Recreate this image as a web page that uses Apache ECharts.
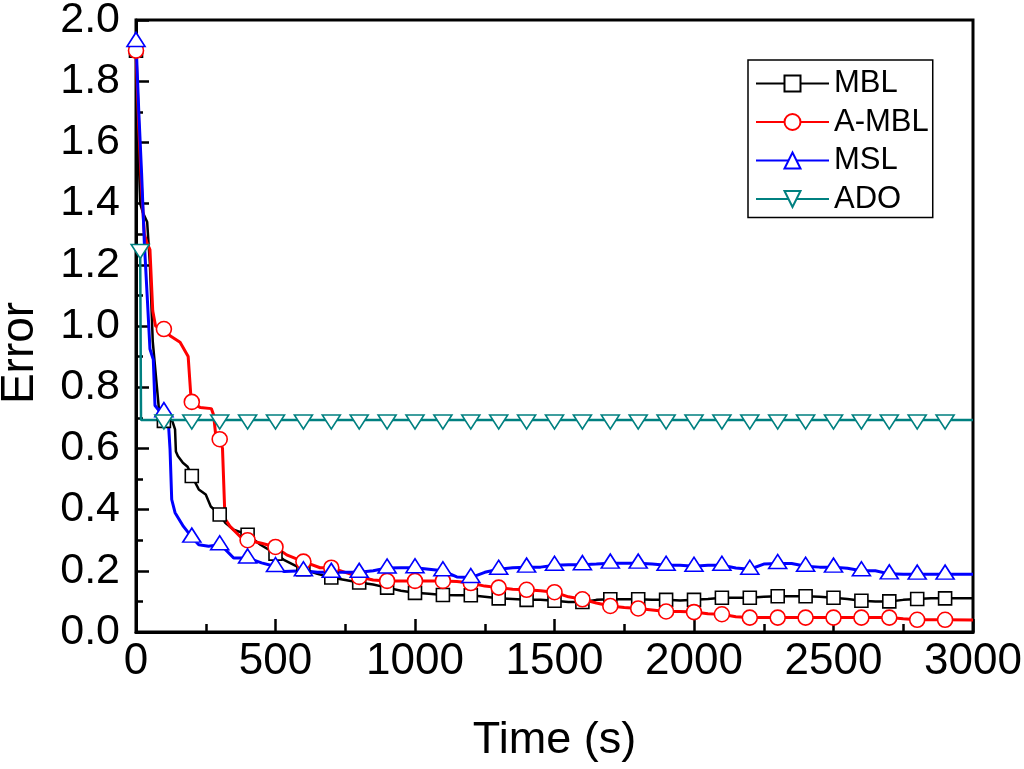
<!DOCTYPE html>
<html>
<head>
<meta charset="utf-8">
<script src="https://cdn.jsdelivr.net/npm/echarts@6/dist/echarts.min.js"></script>
<style>
html,body{margin:0;padding:0;background:#fff;}
#chart{width:1024px;height:769px;}
</style>
</head>
<body>
<div id="chart"></div>
<script>
// Data: [time (s), error]
const mbl = [[0,1.90],[8,1.60],[15,1.40],[25,1.37],[40,1.34],[50,1.20],[60,0.95],[75,0.80],[85,0.70],[100,0.69],
  [130,0.69],[140,0.662],[143,0.59],[150,0.575],[168,0.553],[185,0.54],[200,0.51],[225,0.466],[250,0.449],[268,0.41],
  [300,0.384],[320,0.357],[350,0.334],[400,0.318],[446,0.285],[500,0.256],[530,0.236],[578,0.214],[600,0.205],[650,0.19],
  [700,0.178],[750,0.17],[800,0.162],[850,0.155],[900,0.145],[950,0.135],[1000,0.128],[1050,0.125],[1100,0.121],[1150,0.12],
  [1200,0.12],[1250,0.115],[1300,0.11],[1350,0.108],[1400,0.105],[1450,0.105],[1500,0.102],[1550,0.098],[1600,0.098],[1650,0.105],
  [1700,0.107],[1750,0.107],[1800,0.107],[1850,0.105],[1900,0.105],[1950,0.103],[2000,0.105],[2050,0.108],[2100,0.112],[2150,0.112],
  [2200,0.112],[2250,0.115],[2300,0.117],[2350,0.117],[2400,0.117],[2450,0.115],[2500,0.112],[2550,0.108],[2600,0.102],[2650,0.1],
  [2700,0.1],[2750,0.105],[2800,0.108],[2850,0.11],[2900,0.11],[3000,0.11]];

const ambl = [[0,1.90],[10,1.65],[20,1.45],[30,1.30],[40,1.27],[50,1.25],[60,1.05],[70,1.00],[100,0.99],[122,0.968],
  [158,0.947],[187,0.90],[196,0.78],[200,0.752],[230,0.734],[270,0.73],[278,0.71],[285,0.65],[300,0.63],[310,0.60],
  [319,0.37],[337,0.345],[373,0.312],[400,0.30],[450,0.29],[500,0.278],[540,0.252],[600,0.23],[660,0.21],[700,0.21],
  [750,0.195],[800,0.18],[850,0.17],[900,0.167],[1000,0.167],[1100,0.167],[1150,0.165],[1200,0.16],[1250,0.15],[1300,0.145],
  [1350,0.14],[1400,0.138],[1450,0.135],[1500,0.13],[1550,0.115],[1600,0.107],[1650,0.095],[1700,0.085],[1750,0.08],[1800,0.077],
  [1850,0.072],[1900,0.067],[1950,0.067],[2000,0.065],[2050,0.06],[2100,0.058],[2150,0.05],[2200,0.047],[2300,0.047],[2400,0.047],
  [2500,0.047],[2600,0.047],[2700,0.047],[2750,0.043],[2800,0.04],[2900,0.04],[3000,0.039]];

const msl = [[0,1.93],[10,1.70],[20,1.50],[30,1.27],[40,1.10],[50,0.925],[62,0.89],[68,0.74],[86,0.72],[100,0.72],
  [115,0.70],[122,0.597],[128,0.433],[140,0.39],[170,0.345],[200,0.31],[225,0.285],[260,0.28],[300,0.285],[320,0.27],
  [350,0.242],[400,0.242],[450,0.226],[500,0.214],[530,0.198],[600,0.20],[650,0.195],[700,0.195],[750,0.195],[800,0.195],
  [850,0.20],[900,0.209],[950,0.21],[1000,0.21],[1050,0.205],[1100,0.20],[1150,0.18],[1200,0.178],[1250,0.195],[1300,0.205],
  [1350,0.21],[1400,0.212],[1450,0.212],[1500,0.218],[1550,0.22],[1600,0.22],[1650,0.222],[1700,0.225],[1750,0.225],[1800,0.225],
  [1850,0.222],[1900,0.218],[1950,0.218],[2000,0.215],[2050,0.218],[2100,0.218],[2150,0.209],[2200,0.205],[2250,0.222],[2300,0.224],
  [2350,0.224],[2400,0.215],[2450,0.212],[2500,0.212],[2550,0.208],[2600,0.20],[2650,0.20],[2700,0.19],[2750,0.189],[2800,0.189],
  [2900,0.189],[3000,0.189]];

const ado = [[0,1.25],[15,1.25],[18,0.693],[100,0.693],[200,0.693],[300,0.693],[400,0.693],[500,0.693],[600,0.693],[700,0.693],
  [800,0.693],[900,0.693],[1000,0.693],[1100,0.693],[1200,0.693],[1300,0.693],[1400,0.693],[1500,0.693],[1600,0.693],[1700,0.693],
  [1800,0.693],[1900,0.693],[2000,0.693],[2100,0.693],[2200,0.693],[2300,0.693],[2400,0.693],[2500,0.693],[2600,0.693],[2700,0.693],
  [2800,0.693],[2900,0.693],[3000,0.693]];

// Times at which markers are drawn
const markerTimes = [0,100,200,300,400,500,600,700,800,900,1000,1100,1200,1300,1400,1500,1600,1700,1800,1900,
  2000,2100,2200,2300,2400,2500,2600,2700,2800,2900];
const adoMarkerTimes = [15,100,200,300,400,500,600,700,800,900,1000,1100,1200,1300,1400,1500,1600,1700,1800,1900,
  2000,2100,2200,2300,2400,2500,2600,2700,2800,2900];

const seriesNames = ['MBL','A-MBL','MSL','ADO'];
const xTicks = {min:0, max:3000, step:500};
const yTicks = {min:0, max:2.0, step:0.2};

function build(pairs, marks) {
  return pairs.map(function (p) {
    return marks.indexOf(p[0]) >= 0 ? {value: p} : {value: p, symbol: 'none'};
  });
}

const FONT = '"Liberation Sans", Arial, Helvetica, sans-serif';
const chart = echarts.init(document.getElementById('chart'), null, {renderer: 'canvas'});

function lineSeries(name, pairs, marks, color, symbol, size, lw, extra) {
  return Object.assign({
    name: name,
    type: 'line',
    data: build(pairs, marks),
    symbol: symbol,
    symbolSize: size,
    showSymbol: true,
    showAllSymbol: true,
    lineStyle: {color: color, width: lw},
    itemStyle: {color: '#fff', borderColor: color, borderWidth: 1.6},
    emphasis: {disabled: true},
    clip: false
  }, extra || {});
}

chart.setOption({
  animation: false,
  backgroundColor: '#fff',
  textStyle: {fontFamily: FONT, color: '#000'},
  grid: {left: 136, right: 51, top: 20, bottom: 137, show: true, borderColor: '#000', borderWidth: 3,
    containLabel: false, outerBoundsMode: 'none'},
  legend: {
    data: seriesNames,
    orient: 'vertical',
    left: 748, top: 60,
    itemWidth: 73, itemHeight: 20, itemGap: 7.5,
    padding: [8, 4, 3, 7],
    borderColor: '#000', borderWidth: 1.5, backgroundColor: '#fff',
    textStyle: {fontSize: 31, color: '#000', fontFamily: FONT, lineHeight: 30},
    selectedMode: false
  },
  xAxis: {
    type: 'value', min: xTicks.min, max: xTicks.max, interval: xTicks.step,
    name: 'Time (s)', nameLocation: 'middle', nameGap: 86,
    nameTextStyle: {fontSize: 45, color: '#000', fontFamily: FONT},
    axisLine: {show: true, lineStyle: {color: '#000', width: 3}},
    axisTick: {show: true, inside: true, length: 13, lineStyle: {color: '#000', width: 2.5}},
    minorTick: {show: true, splitNumber: 2, length: 8, lineStyle: {color: '#000', width: 2.5}},
    splitLine: {show: false},
    axisLabel: {fontSize: 44, color: '#000', margin: 8, fontFamily: FONT,
      formatter: function (v) { return String(v); }}
  },
  yAxis: {
    type: 'value', min: yTicks.min, max: yTicks.max, interval: yTicks.step,
    name: 'Error', nameLocation: 'middle', nameGap: 93,
    nameTextStyle: {fontSize: 46, color: '#000', fontFamily: FONT, padding: [0, 54, 0, 0]},
    axisLine: {show: true, lineStyle: {color: '#000', width: 3}},
    axisTick: {show: true, inside: true, length: 13, lineStyle: {color: '#000', width: 2.5}},
    minorTick: {show: true, splitNumber: 2, length: 7, lineStyle: {color: '#000', width: 2.5}},
    splitLine: {show: false},
    axisLabel: {fontSize: 43, color: '#000', margin: 16, fontFamily: FONT,
      formatter: function (v) { return v.toFixed(1); }}
  },
  series: [
    lineSeries('MBL', mbl, markerTimes, '#000000', 'rect', 13, 2.5),
    lineSeries('A-MBL', ambl, markerTimes, '#ff0000', 'circle', 15, 3),
    lineSeries('MSL', msl, markerTimes, '#0000ff', 'triangle', [18, 14], 3, {symbolOffset: [0, -2]}),
    lineSeries('ADO', ado, adoMarkerTimes, '#008080', 'triangle', [18, 14], 2.5, {symbolRotate: 180, symbolOffset: [0, 2]})
  ]
});
</script>
</body>
</html>
